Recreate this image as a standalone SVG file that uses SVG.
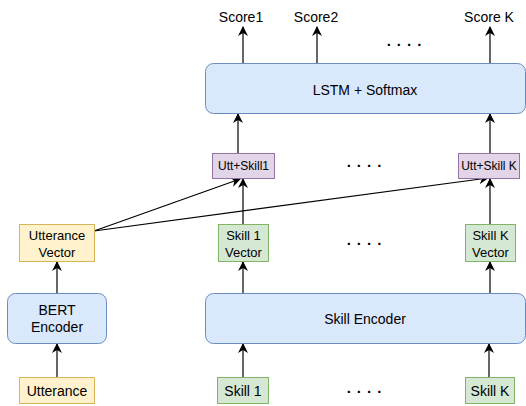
<svg xmlns="http://www.w3.org/2000/svg" width="526" height="406" viewBox="0 0 526 406">
<defs>
<marker id="arr" viewBox="0 0 10 10" refX="9" refY="5" markerWidth="10" markerHeight="10" markerUnits="userSpaceOnUse" orient="auto">
<path d="M0,0 L10,5 L0,10 L3,5 Z" fill="#000"/>
</marker>
</defs>
<style>
text{font-family:"Liberation Sans",Arial,Helvetica,sans-serif;font-size:14px;fill:#000;text-anchor:middle}
.sm{font-size:12px}
.md{font-size:13px}
.dots{font-size:15px;font-weight:bold;letter-spacing:6px}
.blue{fill:#dae8fc;stroke:#6c8ebf;stroke-width:1}
.yel{fill:#fff2cc;stroke:#d6b656;stroke-width:1}
.grn{fill:#d5e8d4;stroke:#82b366;stroke-width:1}
.pur{fill:#e1d5e7;stroke:#9673a6;stroke-width:1}
.c{stroke:#000;stroke-width:1.2;fill:none;marker-end:url(#arr)}
</style>
<g id="connectors">
<line class="c" x1="243" y1="63" x2="243" y2="27"/>
<line class="c" x1="317" y1="63" x2="317" y2="27"/>
<line class="c" x1="490" y1="63" x2="490" y2="27"/>
<line class="c" x1="238" y1="153" x2="238" y2="114"/>
<line class="c" x1="490" y1="153" x2="490" y2="114"/>
<line class="c" x1="94" y1="231" x2="240" y2="179"/>
<line class="c" x1="94" y1="231" x2="488" y2="178"/>
<line class="c" x1="243" y1="224" x2="243" y2="179"/>
<line class="c" x1="490" y1="224" x2="490" y2="179"/>
<line class="c" x1="57" y1="293" x2="57" y2="262"/>
<line class="c" x1="243" y1="293" x2="243" y2="262"/>
<line class="c" x1="490" y1="293" x2="490" y2="262"/>
<line class="c" x1="57" y1="377" x2="57" y2="344"/>
<line class="c" x1="243" y1="377" x2="243" y2="344"/>
<line class="c" x1="489" y1="377" x2="489" y2="344"/>
</g>
<g id="score1"><text x="241" y="22">Score1</text></g>
<g id="score2"><text x="316" y="22">Score2</text></g>
<g id="scorek"><text x="489" y="22">Score K</text></g>
<g id="dots-top"><text class="dots" x="407" y="46">....</text></g>
<g id="lstm"><rect class="blue" x="205.5" y="63.5" width="320" height="50" rx="8"/><text x="365" y="95">LSTM + Softmax</text></g>
<g id="uttskill1"><rect class="pur" x="212.5" y="153.5" width="62" height="25"/><text class="sm" x="243.5" y="170">Utt+Skill1</text></g>
<g id="dots-mid"><text class="dots" x="367" y="167">....</text></g>
<g id="uttskillk"><rect class="pur" x="458.5" y="153.5" width="61" height="25"/><text class="sm" x="489" y="170">Utt+Skill K</text></g>
<g id="uttvec"><rect class="yel" x="19.5" y="224.5" width="75" height="37"/><text class="md" x="57" y="239.5">Utterance</text><text class="md" x="57" y="256.5">Vector</text></g>
<g id="skill1vec"><rect class="grn" x="218.5" y="224.5" width="50" height="37"/><text class="md" x="243.5" y="239.5">Skill 1</text><text class="md" x="243.5" y="256.5">Vector</text></g>
<g id="dots-vec"><text class="dots" x="367" y="245">....</text></g>
<g id="skillkvec"><rect class="grn" x="465.5" y="224.5" width="50" height="37"/><text class="md" x="490.5" y="239.5">Skill K</text><text class="md" x="490.5" y="256.5">Vector</text></g>
<g id="bert"><rect class="blue" x="7.5" y="293.5" width="99" height="50" rx="8"/><text x="57" y="315">BERT</text><text x="57" y="332">Encoder</text></g>
<g id="skillenc"><rect class="blue" x="205.5" y="293.5" width="320" height="50" rx="8"/><text x="365" y="324">Skill Encoder</text></g>
<g id="utterance"><rect class="yel" x="19.5" y="377.5" width="75" height="26"/><text x="57" y="396">Utterance</text></g>
<g id="skill1"><rect class="grn" x="217.5" y="377.5" width="51" height="26"/><text x="243" y="396">Skill 1</text></g>
<g id="dots-bot"><text class="dots" x="367" y="393">....</text></g>
<g id="skillk"><rect class="grn" x="465.5" y="377.5" width="49" height="26"/><text x="490" y="396">Skill K</text></g>
</svg>
